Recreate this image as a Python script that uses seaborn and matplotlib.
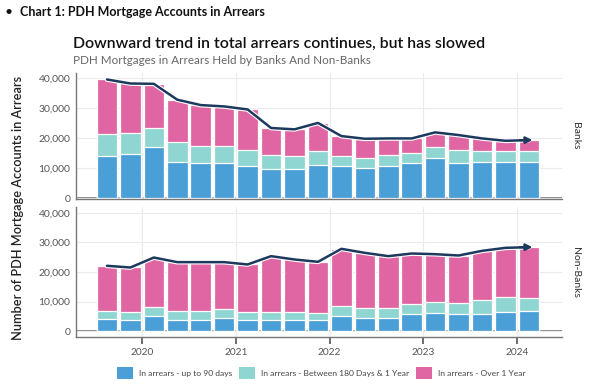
import matplotlib
matplotlib.use("Agg")
import matplotlib.pyplot as plt
import matplotlib.patheffects as pe
from matplotlib.patches import Patch
import numpy as np
import pandas as pd
import seaborn as sns

# quarterly data, 2019 Q3 .. 2024 Q1
quarters = ["2019Q3", "2019Q4", "2020Q1", "2020Q2", "2020Q3", "2020Q4",
            "2021Q1", "2021Q2", "2021Q3", "2021Q4", "2022Q1", "2022Q2",
            "2022Q3", "2022Q4", "2023Q1", "2023Q2", "2023Q3", "2023Q4", "2024Q1"]

banks_90d = [14160, 14600, 17190, 12130, 11690, 11690, 10670, 9780, 9780, 11010,
             10670, 10110, 10670, 11690, 13260, 11690, 11910, 11910, 11910]
banks_180d = [7190, 6970, 6180, 6410, 5840, 5730, 5290, 4490, 4260, 4720,
              3370, 3370, 3710, 3480, 3820, 4270, 3820, 3820, 3820]
banks_1y = [18200, 16630, 14720, 14260, 13480, 13140, 13590, 9100, 8880, 9330,
            6630, 6300, 5510, 4720, 4830, 5050, 4160, 3370, 3600]

nb_90d = [4060, 3830, 5070, 3610, 3720, 4510, 3610, 3610, 3610, 3830,
          5070, 4510, 4510, 5750, 6090, 5640, 5860, 6540, 6760]
nb_180d = [2700, 2710, 3160, 3040, 3040, 2930, 2930, 2930, 2820, 2370,
           3390, 3380, 3380, 3490, 3720, 3940, 4510, 4850, 4510]
nb_1y = [15340, 14990, 16670, 16690, 16580, 15900, 16010, 18830, 17810, 17250,
         19390, 18600, 17480, 17030, 16230, 16010, 16800, 16800, 17140]

year_ticks = [2020, 2021, 2022, 2023, 2024]
series_names = ["In arrears - up to 90 days", "In arrears - Between 180 Days & 1 Year",
                "In arrears - Over 1 Year"]
colors = ["#4a9fd6", "#8fd5d2", "#e066a3"]
line_color = "#1d3a5e"

sns.set_theme(style="whitegrid")
plt.rcParams["font.family"] = ["Lato", "DejaVu Sans"]

W, H = 614, 387
fig = plt.figure(figsize=(W / 100, H / 100), dpi=100)


def box(l, t, r, b):
    return [l / W, 1 - b / H, (r - l) / W, (b - t) / H]


panels = [
    ("Banks", banks_90d, banks_180d, banks_1y, box(76, 73, 562, 199), (-300, 41700)),
    ("Non-Banks", nb_90d, nb_180d, nb_1y, box(76, 207, 562, 337), (-2030, 42030)),
]

# year tick positions in bar-index units (bar 0 sits at mid 2019 Q3)
tick_pos = [(y - 2019.625) / 0.25 for y in year_ticks]

axes = []
for name, a, b, c, rect, ylim in panels:
    ax = fig.add_axes(rect)
    a, b, c = np.array(a), np.array(b), np.array(c)
    df = pd.DataFrame({"q": quarters, "s1": a, "s2": a + b, "s3": a + b + c})
    for col, colr in zip(["s3", "s2", "s1"], colors[::-1]):
        sns.barplot(data=df, x="q", y=col, color=colr, width=0.88, saturation=1,
                    edgecolor="white", linewidth=0.9, ax=ax)
    total = df["s3"].values
    x = np.arange(len(quarters))
    sns.lineplot(x=x, y=total, ax=ax, color=line_color, linewidth=1.8,
                 path_effects=[pe.Stroke(linewidth=3.4, foreground="white"), pe.Normal()])
    ax.annotate("", xy=(x[-1] + 0.15, total[-1]), xytext=(x[-1] - 0.4, total[-1]),
                arrowprops=dict(arrowstyle="-|>", color=line_color, lw=1.6,
                                mutation_scale=10, shrinkA=0, shrinkB=0))
    ax.set_xlim(-1.32, 19.41)
    ax.set_ylim(*ylim)
    ax.set_yticks([0, 10000, 20000, 30000, 40000])
    ax.set_yticklabels(["0", "10,000", "20,000", "30,000", "40,000"])
    ax.set_xticks(tick_pos)
    ax.set_xticklabels([str(y) for y in year_ticks])
    ax.axhline(0, color="#777777", lw=1.2, zorder=0.5)
    ax.grid(True, color="#ebebeb", lw=0.8)
    ax.set_axisbelow(True)
    ax.set_xlabel("")
    ax.set_ylabel("")
    for s in ["top", "right"]:
        ax.spines[s].set_visible(False)
    for s in ["left", "bottom"]:
        ax.spines[s].set_color("#777777")
        ax.spines[s].set_linewidth(1.0)
    ax.tick_params(axis="y", labelsize=7.5, labelcolor="#555555", length=0, pad=4)
    ax.text(1.018, 0.5, name, transform=ax.transAxes, rotation=270, ha="left",
            va="center", fontsize=7.5, color="#333333")
    axes.append(ax)

axes[0].tick_params(axis="x", labelbottom=False, length=0)
axes[1].tick_params(axis="x", labelsize=7.3, labelcolor="#555555", length=5,
                    width=1.2, color="#555555", bottom=True, pad=3)

fig.text(5 / W, 1 - 12 / H, "\u2022", fontsize=10, va="center", ha="left", color="#111111")
fig.text(20 / W, 1 - 12 / H, "Chart 1: PDH Mortgage Accounts in Arrears", fontsize=9,
         fontweight="bold", va="center", ha="left", color="#111111")
fig.text(73 / W, 1 - 44 / H, "Downward trend in total arrears continues, but has slowed",
         fontsize=11.4, fontweight="semibold", va="center", ha="left", color="#111111")
fig.text(73 / W, 1 - 61 / H, "PDH Mortgages in Arrears Held by Banks And Non-Banks",
         fontsize=8.4, va="center", ha="left", color="#666666")
fig.text(18 / W, 1 - 208 / H, "Number of PDH Mortgage Accounts in Arrears", rotation=90,
         fontsize=9.2, fontweight="semibold", va="center", ha="center", color="#222222")

handles = [Patch(facecolor=c, edgecolor="none") for c in colors]
fig.legend(handles, series_names, loc="center", bbox_to_anchor=(321 / W, 1 - 373 / H),
           ncol=3, frameon=False, fontsize=6.1, handlelength=1.9, handleheight=1.9,
           handletextpad=0.7, columnspacing=0.8, labelcolor="#444444")

fig.savefig("out.png", dpi=100)
